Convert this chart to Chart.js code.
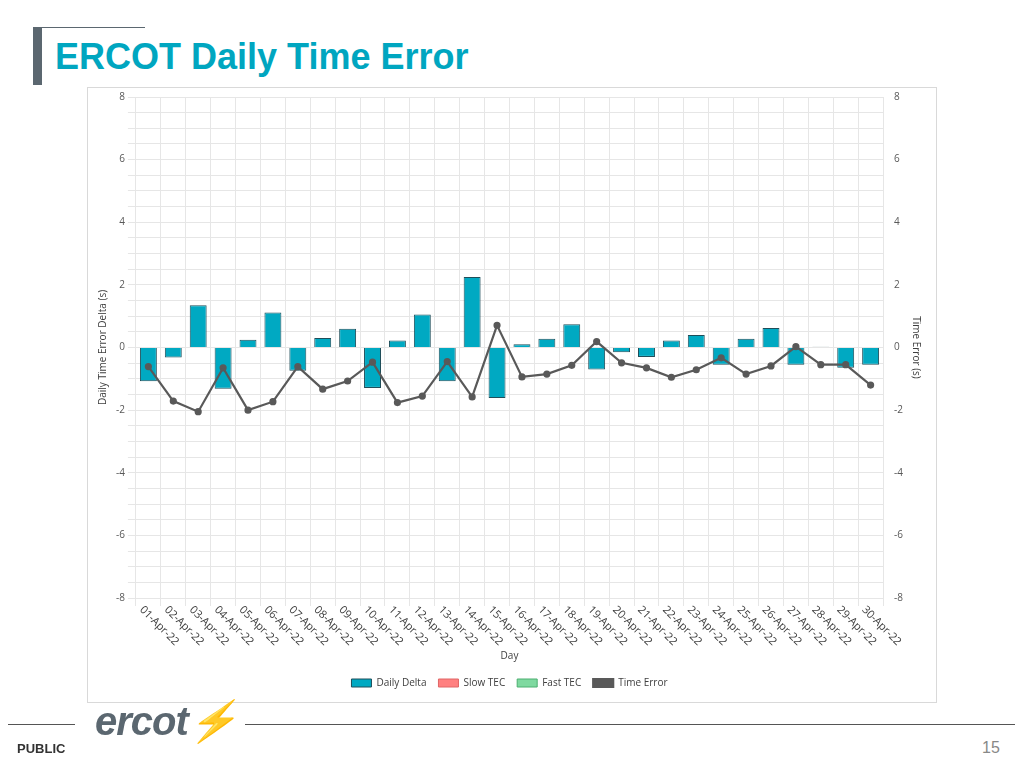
<!DOCTYPE html>
<html><head><meta charset="utf-8">
<script src="https://cdn.jsdelivr.net/npm/chart.js@4"></script>
<style>
body{margin:0;width:1024px;height:768px;background:#fff;position:relative;font-family:"Liberation Sans",Arial,sans-serif;overflow:hidden}
#bar{position:absolute;left:33px;top:27px;width:9px;height:58px;background:#5b6770}
#tl{position:absolute;left:42px;top:27px;width:103px;height:1px;background:#5b6770}
#title{position:absolute;left:55px;top:36px;font-size:36px;font-weight:bold;color:#00a6c0}
#box{position:absolute;left:87px;top:87px;width:850px;height:616px;border:1px solid #d9d9d9;box-sizing:border-box}
#cv{position:absolute;left:88px;top:88px}
#fl1{position:absolute;left:8px;top:724px;width:67px;height:1px;background:#555}
#fl2{position:absolute;left:245px;top:724px;width:770px;height:1px;background:#555}
#logo{position:absolute;left:95px;top:698px;font-size:40px;font-weight:bold;font-style:italic;color:#5b6770;letter-spacing:-1px}
#pub{position:absolute;left:17px;top:741px;font-size:13px;font-weight:bold;color:#333}
#pg{position:absolute;left:982px;top:739px;font-size:16px;color:#888}
</style></head><body>
<div id="bar"></div><div id="tl"></div><div id="title">ERCOT Daily Time Error</div>
<div id="box"></div>
<div id="cv"><canvas id="c" width="848" height="614"></canvas></div>
<div id="fl1"></div><div id="fl2"></div><div id="logo">ercot<span style="color:#00a6c0">⚡</span></div>
<div id="pub">PUBLIC</div><div id="pg">15</div>
<script>
const days=['01-Apr-22','02-Apr-22','03-Apr-22','04-Apr-22','05-Apr-22','06-Apr-22','07-Apr-22','08-Apr-22','09-Apr-22','10-Apr-22','11-Apr-22','12-Apr-22','13-Apr-22','14-Apr-22','15-Apr-22','16-Apr-22','17-Apr-22','18-Apr-22','19-Apr-22','20-Apr-22','21-Apr-22','22-Apr-22','23-Apr-22','24-Apr-22','25-Apr-22','26-Apr-22','27-Apr-22','28-Apr-22','29-Apr-22','30-Apr-22'];
const dailyDelta=[-1.08,-0.32,1.35,-1.32,0.25,1.12,-0.74,0.3,0.6,-1.29,0.22,1.05,-1.08,2.25,-1.61,0.1,0.28,0.74,-0.7,-0.15,-0.3,0.22,0.4,-0.55,0.28,0.62,-0.55,0.02,-0.65,-0.55];
const timeError=[-0.61,-1.71,-2.05,-0.65,-2.0,-1.73,-0.61,-1.33,-1.07,-0.47,-1.76,-1.55,-0.45,-1.58,0.71,-0.94,-0.85,-0.57,0.19,-0.49,-0.65,-0.95,-0.71,-0.33,-0.85,-0.59,0.03,-0.55,-0.55,-1.2];
const f="'Open Sans',sans-serif";
const tick={min:-8,max:8,ticks:{stepSize:0.5,color:'#595959',font:{size:10,family:f},callback:v=>(v%2===0?v:'')},grid:{color:'#e6e6e6'},border:{display:false}};
const xlab={id:'xlab',afterDraw(ch){const c=ch.ctx,x=ch.scales.x;c.save();c.font="11px "+f;c.fillStyle='#404040';c.textAlign='left';c.textBaseline='middle';
 days.forEach((d,i)=>{c.save();c.translate(x.getPixelForValue(i)-7,ch.chartArea.bottom+10);c.rotate(Math.PI/4);c.fillText(d,0,0);c.restore();});c.restore();}};
new Chart(document.getElementById('c'),{
data:{labels:days,datasets:[
{type:'bar',label:'Daily Delta',data:dailyDelta,backgroundColor:'#00a9c2',borderColor:'#1f4e5a',borderWidth:1,yAxisID:'y',categoryPercentage:0.68,barPercentage:1,grouped:false,order:2},
{type:'bar',label:'Slow TEC',data:[],backgroundColor:'#ff8080',borderColor:'#e06666',borderWidth:1,yAxisID:'y',grouped:false,order:3},
{type:'bar',label:'Fast TEC',data:[],backgroundColor:'#7fd9a0',borderColor:'#4caf70',borderWidth:1,yAxisID:'y',grouped:false,order:4},
{type:'line',label:'Time Error',data:timeError,borderColor:'#595959',backgroundColor:'#595959',borderWidth:2.2,pointRadius:2.5,yAxisID:'y2',order:1}]},
options:{responsive:false,animation:false,
layout:{padding:{top:5,left:5,right:10,bottom:4}},
plugins:{legend:{position:'bottom',labels:{sort:(a,b)=>a.datasetIndex-b.datasetIndex,boxWidth:20,boxHeight:8,color:'#404040',font:{size:10,family:f},padding:12}}},
scales:{
x:{grid:{color:'#e6e6e6',offset:true},border:{display:false},ticks:{display:true,callback:()=>'' ,maxRotation:0},afterFit:s=>{s.height=68;},
  title:{display:true,text:'Day',color:'#404040',font:{size:10,family:f}}},
y:{...tick,position:'left',title:{display:true,text:'Daily Time Error Delta (s)',color:'#404040',font:{size:10,family:f}}},
y2:{...tick,position:'right',grid:{display:false},title:{display:true,text:'Time Error (s)',color:'#404040',font:{size:10,family:f}}}
}},plugins:[xlab]});
</script></body></html>
